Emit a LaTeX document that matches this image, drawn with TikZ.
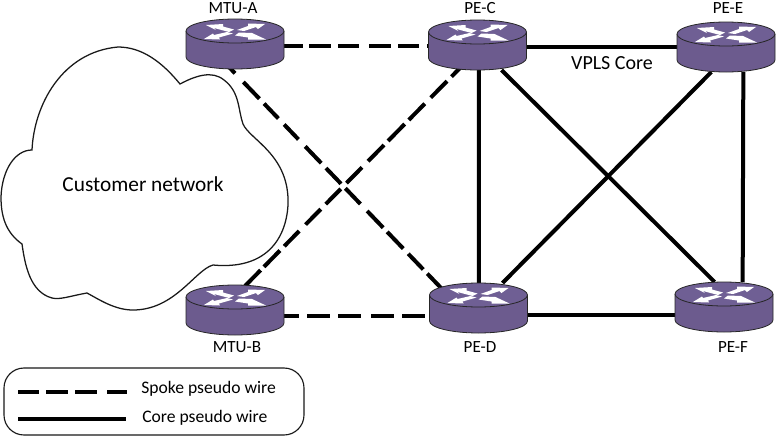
\documentclass[tikz,border=0pt]{standalone}
\usepackage{fontspec}
\setmainfont{Carlito}
\usetikzlibrary{calc}
\definecolor{routerpurple}{HTML}{6C5B8E}
\definecolor{routertop}{HTML}{6F5F94}
\tikzset{
  x=0.75pt,y=-0.75pt,
  routerbox/.style={minimum width=73.5pt,minimum height=37.5pt,inner sep=0pt,outer sep=0pt},
  spoke/.style={line width=3pt},
  core/.style={line width=3pt},
  lbl/.style={inner sep=0pt,font=\fontsize{12.8}{14}\selectfont},
  arrowpoly/.style={fill=white,draw=none},
  outline/.style={draw=black!85,line width=0.6pt},
}
\newcommand{\routerlook}[1]{%
  \begin{scope}[shift={(#1)}]
    \path[outline,fill=routerpurple] (-49,-13) -- (-49,13) arc[start angle=180,end angle=360,x radius=36.75pt,y radius=9pt] -- (49,-13);
    \path[outline,fill=routertop] (0,-13) ellipse[x radius=36.75pt,y radius=9pt];
    \fill[arrowpoly] (-29,-19) -- (-12,-20) -- (-12,-17.5) -- (-1,-14.5) -- (-6,-12) -- (-21,-16) -- (-19,-14) -- cycle;
    \fill[arrowpoly] (30,-20) -- (13,-20.5) -- (13,-18) -- (2,-14) -- (9,-13) -- (21,-17) -- (23,-15) -- cycle;
    \fill[arrowpoly] (-31,-5) -- (-22,-10.5) -- (-21,-9) -- (-8,-12) -- (-2,-10.5) -- (-16,-6.5) -- (-15,-4.5) -- cycle;
    \fill[arrowpoly] (31,-4.5) -- (17,-11) -- (4,-11.5) -- (0,-8.5) -- (13,-6.5) -- (13,-4.5) -- cycle;
  \end{scope}}
\begin{document}
\begin{tikzpicture}
\useasboundingbox (0,0) rectangle (776,436);
\node[routerbox] (A) at (235,44) {};
\node[routerbox] (B) at (235,310) {};
\node[routerbox] (C) at (477.5,45) {};
\node[routerbox] (D) at (478.5,308) {};
\node[routerbox] (E) at (726,47) {};
\node[routerbox] (F) at (724,307) {};
% cloud
\draw[line width=0.95pt,fill=white,draw=black!90]
  (32,150) .. controls (34,105) and (62,52) .. (118,47)
  .. controls (142,47) and (162,62) .. (180,84)
  .. controls (195,76) and (212,70) .. (224,80)
  .. controls (240,92) and (238,110) .. (243,124)
  .. controls (250,140) and (290,155) .. (288,205)
  .. controls (286,240) and (265,270) .. (213,265)
  .. controls (195,270) and (175,310) .. (133,310)
  .. controls (115,310) and (100,300) .. (87,293)
  .. controls (70,296) and (60,300) .. (52,298)
  .. controls (30,292) and (25,265) .. (22,244)
  .. controls (5,232) and (1,215) .. (1,197)
  .. controls (2,170) and (15,150) .. (32,150) -- cycle;
\node[inner sep=0pt,font=\fontsize{16}{18}\selectfont] (cn) at (143,184) {Customer network};
% connectors
\draw[spoke,dash pattern=on 51pt off 4.5pt on 16.5pt off 5.25pt on 15.75pt off 7.5pt on 16.5pt off 5.25pt on 15.75pt off 6pt on 60pt off 1pt] ([yshift=-1.5pt]A.center) -- ([yshift=-0.75pt]C.center);
\draw[spoke,dash pattern=on 7.6pt off 9pt on 17.4pt off 5.1pt on 15.5pt off 6.2pt on 15.5pt off 7.3pt on 17.4pt off 5.1pt on 16.3pt off 4.7pt on 16.3pt off 7.3pt on 17.4pt off 4.3pt on 17.4pt off 5.4pt on 16.3pt off 4.3pt on 30pt off 1pt] ([shift={(-7,-3)}]A.south) -- ([shift={(-35.5,7)}]D.north);
\draw[spoke,dash pattern=on 16.7pt off 3.5pt on 17.1pt off 4.6pt on 16pt off 6.8pt on 16.3pt off 5.3pt on 16pt off 6.1pt on 16.6pt off 6.4pt on 17.1pt off 4.3pt on 17.8pt off 4.3pt on 17.1pt off 6.4pt on 17.4pt off 4.7pt on 30pt off 1pt] ([shift={(10,1)}]B.north) -- ([shift={(-17.5,-2)}]C.south);
\draw[spoke,dash pattern=on 48pt off 6pt on 17.25pt off 6pt on 17.25pt off 7.5pt on 17.25pt off 6pt on 17.25pt off 3pt on 60pt off 1pt] ([yshift=-4.5pt]B.center) -- ([yshift=-6pt]D.center);
\draw[core] ([yshift=-1.5pt]C.center) -- (E.center);
\draw[core] ([yshift=-5.25pt]D.center) -- ([yshift=-6pt]F.center);
\draw[core] ([xshift=1pt]C.south) -- ([xshift=0.2pt]D.north);
\draw[core] ([xshift=13pt]E.south) -- ([xshift=14pt]F.north);
\draw[core] ([xshift=18pt]C.south) -- ([xshift=-7pt]F.north);
\draw[core] ([xshift=-11pt]E.south) -- ([xshift=18pt]D.north);
% routers
\foreach \r in {A,B,C,D,E,F} {\routerlook{\r}}
% labels
\node[lbl] (la) at (233,8) {MTU-A};
\node[lbl] (lc) at (480,8) {PE-C};
\node[lbl] (le) at (728,8) {PE-E};
\node[lbl,font=\fontsize{15}{18}\selectfont] (lv) at (612,63) {VPLS Core};
\node[lbl] (lb) at (237,347) {MTU-B};
\node[lbl] (ld) at (480,347) {PE-D};
\node[lbl] (lf) at (733,347) {PE-F};
% legend
\draw[line width=0.85pt,draw=black!90,rounded corners=15pt] (4,368) rectangle (304,435);
\coordinate (ls1) at (18,392); \coordinate (ls2) at (127,392);
\coordinate (lc1) at (18,419); \coordinate (lc2) at (126,419);
\draw[line width=3pt,dash pattern=on 15.75pt off 5.25pt on 16.5pt off 5.25pt on 16.5pt off 7.5pt on 15.75pt off 5pt] (ls1) -- (ls2);
\draw[core] (lc1) -- (lc2);
\node[lbl,anchor=west,font=\fontsize{13.2}{15}\selectfont] (t1) at (141,389) {Spoke pseudo wire};
\node[lbl,anchor=west,font=\fontsize{13.2}{15}\selectfont] (t2) at (142,418) {Core pseudo wire};
\end{tikzpicture}
\end{document}
